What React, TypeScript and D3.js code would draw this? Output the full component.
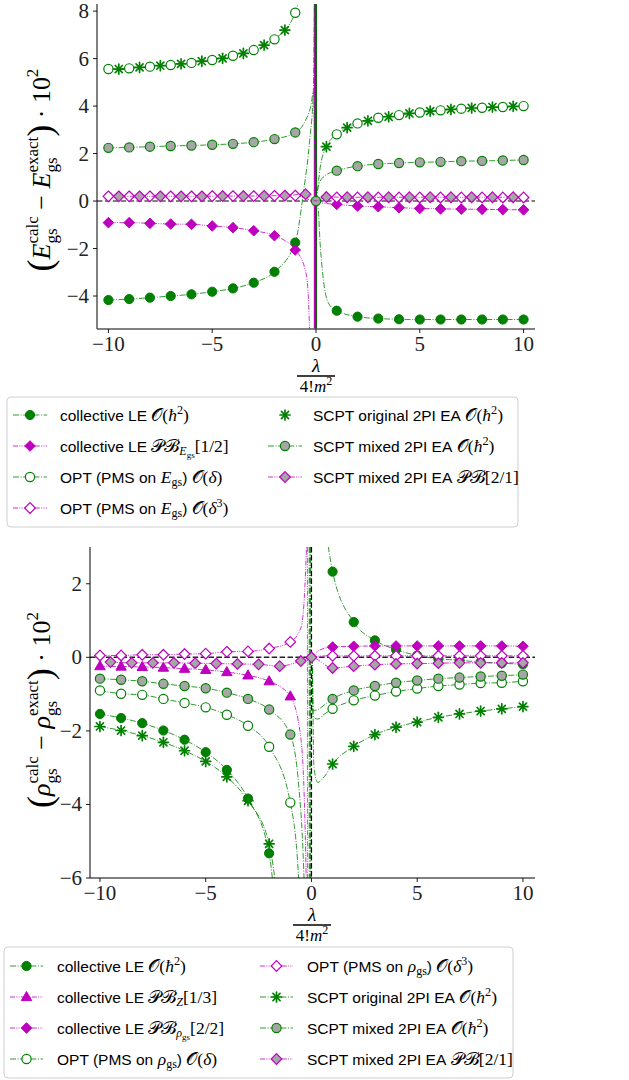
import React from "react";
import * as d3 from "d3";

type Pt = [number, number];

// x grids used by the markers
const xNeg = [-10, -9, -8, -7, -6, -5, -4, -3, -2, -1];
const xPos = [1, 2, 3, 4, 5, 6, 7, 8, 9, 10];
const xNegHalf = [-9.5, -8.5, -7.5, -6.5, -5.5, -4.5, -3.5, -2.5, -1.5, -0.5];
const xPosHalf = [0.5, 1.5, 2.5, 3.5, 4.5, 5.5, 6.5, 7.5, 8.5, 9.5];
const xTicks = [-10, -5, 0, 5, 10];
const yTicksE = [-4, -2, 0, 2, 4, 6, 8];
const yTicksR = [-6, -4, -2, 0, 2];

// ---- top panel: (E_calc - E_exact) * 1e2
const eLeNeg = [-4.17, -4.13, -4.07, -4.0, -3.93, -3.82, -3.68, -3.44, -2.98, -1.75];
const eLePos = [-4.62, -4.87, -4.95, -4.98, -4.99, -4.99, -4.99, -4.99, -4.99, -4.99];
const eLeTail: Pt[] = [[-0.6, 0.4], [-0.3, 2.6], [-0.13, 4.6], [-0.07, 9]];
const eLeHead: Pt[] = [[0.0, 0], [0.1, -0.3], [0.2, -1.8], [0.34, -3.2], [0.6, -4.3]];

const ePbNeg = [-0.91, -0.91, -0.94, -0.97, -0.98, -1.05, -1.12, -1.25, -1.46, -2.06];
const ePbPos = [-0.14, -0.21, -0.24, -0.28, -0.31, -0.33, -0.34, -0.35, -0.36, -0.37];
const ePbTail: Pt[] = [[-0.55, -2.8], [-0.4, -3.6], [-0.3, -5.6]];
const ePbHead: Pt[] = [[0, 0], [0.3, -0.08]];

const eOptNeg = [5.56, 5.59, 5.66, 5.73, 5.82, 5.94, 6.12, 6.36, 6.81, 7.93];
const eOptPos = [2.81, 3.27, 3.51, 3.62, 3.73, 3.82, 3.89, 3.93, 3.96, 4.0];
const eOptTail: Pt[] = [[-0.8, 8.6]];
const eOptHead: Pt[] = [[0.03, 0], [0.2, 1.4], [0.5, 2.29]];

const eOpt3Neg = [0.2, 0.2, 0.2, 0.2, 0.2, 0.21, 0.21, 0.21, 0.22, 0.23];
const eOpt3Pos = [0.15, 0.15, 0.15, 0.15, 0.15, 0.15, 0.15, 0.15, 0.15, 0.15];

const eScNeg = [5.56, 5.63, 5.7, 5.78, 5.89, 6.01, 6.22, 6.57, 7.2];
const eScPos = [2.29, 3.09, 3.38, 3.55, 3.69, 3.79, 3.86, 3.92, 3.96, 3.99];

const eMixNeg = [2.24, 2.26, 2.29, 2.32, 2.34, 2.37, 2.41, 2.48, 2.61, 2.89];
const eMixPos = [1.28, 1.47, 1.56, 1.6, 1.63, 1.65, 1.68, 1.69, 1.71, 1.73];
const eMixTail: Pt[] = [[-0.5, 3.4], [-0.25, 4.0], [-0.12, 4.6], [-0.05, 2.0], [0, 0]];
const eMixHead: Pt[] = [[0, 0], [0.1, 0.6], [0.4, 1.05]];

const eMixPbNeg = [0.2, 0.2, 0.2, 0.2, 0.2, 0.21, 0.21, 0.22, 0.23, 0.29];
const eMixPbPos = [0.17, 0.16, 0.16, 0.16, 0.16, 0.16, 0.16, 0.16, 0.16, 0.16];

// ---- bottom panel: (rho_calc - rho_exact) * 1e2
const rLeNeg = [-1.54, -1.65, -1.79, -1.99, -2.24, -2.58, -3.06, -3.84, -5.33];
const rLePos = [2.33, 0.96, 0.46, 0.21, 0.05, -0.04, -0.08, -0.13, -0.16, -0.19];
const rLeTail: Pt[] = [[-1.75, -6.6]];
const rLeHead: Pt[] = [[0.72, 3.3]];

const rPbzNeg = [-0.24, -0.25, -0.26, -0.28, -0.31, -0.34, -0.4, -0.49, -0.65, -1.06];
const rPbzTail: Pt[] = [[-0.5, -2.2], [-0.32, -4.2], [-0.23, -6.5]];

const rPbrPos = [0.28, 0.3, 0.31, 0.31, 0.31, 0.31, 0.31, 0.31, 0.31, 0.3];
const rPbrHead: Pt[] = [[0, 0], [0.4, 0.2]];

const rOptNeg = [-0.9, -0.99, -1.02, -1.13, -1.24, -1.36, -1.56, -1.86, -2.43, -3.95];
const rOptPos = [-1.4, -1.17, -1.04, -0.93, -0.85, -0.78, -0.74, -0.7, -0.69, -0.65];
const rOptTail: Pt[] = [[-0.7, -5.2], [-0.55, -6.5]];
const rOptHead: Pt[] = [[0.04, 0], [0.07, -1.6], [0.3, -1.68], [0.6, -1.55]];

const rOpt3Neg = [0.05, 0.05, 0.07, 0.07, 0.09, 0.1, 0.15, 0.16, 0.24, 0.42];
const rOpt3Pos = [0.04, 0.04, 0.04, 0.04, 0.04, 0.04, 0.04, 0.04, 0.04, 0.04];
const rOpt3Tail: Pt[] = [[-0.5, 0.8], [-0.32, 1.8], [-0.22, 3.2]];
const rOpt3Head: Pt[] = [[0, 0], [0.3, 0.03]];

const rScNeg = [-1.88, -1.99, -2.13, -2.31, -2.54, -2.83, -3.25, -3.9, -5.07];
const rScPos = [-2.9, -2.42, -2.1, -1.9, -1.76, -1.63, -1.54, -1.46, -1.4, -1.34];
const rScTail: Pt[] = [[-1.6, -6.6]];
const rScHead: Pt[] = [[0.05, 0], [0.12, -3.0], [0.3, -3.4], [0.6, -3.25]];

const rMixNeg = [-0.58, -0.61, -0.65, -0.72, -0.78, -0.84, -0.96, -1.13, -1.42, -2.1];
const rMixPos = [-1.13, -0.9, -0.78, -0.69, -0.63, -0.58, -0.55, -0.52, -0.5, -0.47];
const rMixTail: Pt[] = [[-0.6, -3.5], [-0.42, -5.0], [-0.32, -6.5]];
const rMixHead: Pt[] = [[0.04, 0], [0.07, -1.45], [0.3, -1.42], [0.6, -1.3]];

const rMixPbNeg = [-0.13, -0.15, -0.15, -0.15, -0.16, -0.17, -0.18, -0.19, -0.24, -0.1];
const rMixPbPos = [-0.29, -0.24, -0.2, -0.18, -0.17, -0.16, -0.15, -0.15, -0.15, -0.15];

const GREEN = "#008000";
const MAG = "#bf00bf";
const GRAY = "#a6a6a6";
const DASH_G = "6 1.6 1 1.6";
const DASH_M = "5 1.3 1 1.3 1 1.3";

const SANS = '"Liberation Sans", Arial, sans-serif';
const SERIF = '"Liberation Serif", "Times New Roman", serif';

const zip = (xs: number[], ys: number[]): Pt[] => ys.map((y, i) => [xs[i], y]);

// ---------- rich text helpers (measure with a canvas) ----------
type Piece = { t: string; f?: "sans" | "rm" | "it"; s: number; dy?: number; stack?: boolean };
const canvas = typeof document !== "undefined" ? document.createElement("canvas") : null;
const ctx = canvas ? canvas.getContext("2d") : null;
const fontOf = (p: Piece) =>
  `${p.f === "it" ? "italic " : ""}${p.s}px ${p.f === "sans" ? SANS : SERIF}`;
const measure = (p: Piece) => {
  if (!ctx) return p.t.length * p.s * 0.5;
  ctx.font = fontOf(p);
  return ctx.measureText(p.t).width;
};
function layout(pieces: Piece[]) {
  let x = 0, prevStart = 0, prevW = 0;
  const items = pieces.map((p) => {
    const w = measure(p);
    if (p.stack) {
      const it = { ...p, x: prevStart };
      prevW = Math.max(prevW, w);
      x = prevStart + prevW;
      return it;
    }
    const it = { ...p, x };
    prevStart = x;
    prevW = w;
    x += w;
    return it;
  });
  return { items, width: x };
}
function Rich({ pieces, x, y, anchor = "start" }: { pieces: Piece[]; x: number; y: number; anchor?: string }) {
  const { items, width } = layout(pieces);
  const x0 = anchor === "middle" ? x - width / 2 : anchor === "end" ? x - width : x;
  return (
    <g>
      {items.map((p, i) => (
        <text
          key={i}
          x={x0 + p.x}
          y={y - (p.dy || 0)}
          fontFamily={p.f === "sans" ? SANS : SERIF}
          fontStyle={p.f === "it" ? "italic" : "normal"}
          fontSize={p.s}
          style={{ whiteSpace: "pre" }}
        >
          {p.t}
        </text>
      ))}
    </g>
  );
}

// ---------- markers ----------
function Marker({ kind, x, y }: { kind: string; x: number; y: number }) {
  const r = 4.6, d = 5.3;
  const dia = `M${x},${y - d}L${x + d},${y}L${x},${y + d}L${x - d},${y}Z`;
  switch (kind) {
    case "circle":
      return <circle cx={x} cy={y} r={r} fill={GREEN} stroke={GREEN} strokeWidth={1} />;
    case "circleOpen":
      return <circle cx={x} cy={y} r={r} fill="#fff" stroke={GREEN} strokeWidth={1.2} />;
    case "circleGray":
      return <circle cx={x} cy={y} r={r} fill={GRAY} stroke={GREEN} strokeWidth={1.2} />;
    case "diamond":
      return <path d={dia} fill={MAG} stroke={MAG} strokeWidth={1} />;
    case "diamondOpen":
      return <path d={dia} fill="#fff" stroke={MAG} strokeWidth={1.2} />;
    case "diamondGray":
      return <path d={dia} fill={GRAY} stroke={MAG} strokeWidth={1.2} />;
    case "triangle":
      return <path d={`M${x},${y - 5.5}L${x + 5.2},${y + 3.6}L${x - 5.2},${y + 3.6}Z`} fill={MAG} stroke={MAG} strokeWidth={1} />;
    case "star": {
      const a = 5;
      return (
        <g stroke={GREEN} strokeWidth={1.7} strokeLinecap="round">
          {[0, 45, 90, 135].map((deg) => {
            const c = Math.cos((deg * Math.PI) / 180) * a;
            const s = Math.sin((deg * Math.PI) / 180) * a;
            return <line key={deg} x1={x - c} y1={y - s} x2={x + c} y2={y + s} />;
          })}
          <circle cx={x} cy={y} r={2} fill={GREEN} stroke="none" />
        </g>
      );
    }
  }
  return null;
}

type Series = { kind: string; line: "g" | "m" | null; segs: Pt[][]; pts: Pt[] };

const topSeries: Series[] = [
  { kind: "circle", line: "g", segs: [[...zip(xNeg, eLeNeg), ...eLeTail], [...eLeHead, ...zip(xPos, eLePos)]], pts: [...zip(xNeg, eLeNeg), ...zip(xPos, eLePos)] },
  { kind: "diamond", line: "m", segs: [[...zip(xNeg, ePbNeg), ...ePbTail], [...ePbHead, ...zip(xPos, ePbPos)]], pts: [...zip(xNeg, ePbNeg), ...zip(xPos, ePbPos)] },
  { kind: "circleOpen", line: "g", segs: [[...zip(xNeg, eOptNeg), ...eOptTail], [...eOptHead, ...zip(xPos, eOptPos)]], pts: [...zip(xNeg, eOptNeg), ...zip(xPos, eOptPos)] },
  { kind: "diamondOpen", line: "m", segs: [[...zip(xNeg, eOpt3Neg), [0, 0], ...zip(xPos, eOpt3Pos)]], pts: [...zip(xNeg, eOpt3Neg), ...zip(xPos, eOpt3Pos)] },
  { kind: "star", line: null, segs: [], pts: [...zip(xNegHalf, eScNeg), ...zip(xPosHalf, eScPos)] },
  { kind: "circleGray", line: "g", segs: [[...zip(xNeg, eMixNeg), ...eMixTail], [...eMixHead, ...zip(xPos, eMixPos)]], pts: [...zip(xNeg, eMixNeg), [0, 0], ...zip(xPos, eMixPos)] },
  { kind: "diamondGray", line: "m", segs: [[...zip(xNegHalf, eMixPbNeg), [0, 0], ...zip(xPosHalf, eMixPbPos)]], pts: [...zip(xNegHalf, eMixPbNeg), ...zip(xPosHalf, eMixPbPos)] },
];

const botSeries: Series[] = [
  { kind: "circle", line: "g", segs: [[...zip(xNeg, rLeNeg), ...rLeTail], [...rLeHead, ...zip(xPos, rLePos)]], pts: [...zip(xNeg, rLeNeg), ...zip(xPos, rLePos)] },
  { kind: "triangle", line: "m", segs: [[...zip(xNeg, rPbzNeg), ...rPbzTail]], pts: zip(xNeg, rPbzNeg) },
  { kind: "diamond", line: "m", segs: [[...rPbrHead, ...zip(xPos, rPbrPos)]], pts: zip(xPos, rPbrPos) },
  { kind: "circleOpen", line: "g", segs: [[...zip(xNeg, rOptNeg), ...rOptTail], [...rOptHead, ...zip(xPos, rOptPos)]], pts: [...zip(xNeg, rOptNeg), ...zip(xPos, rOptPos)] },
  { kind: "diamondOpen", line: "m", segs: [[...zip(xNeg, rOpt3Neg), ...rOpt3Tail], [...rOpt3Head, ...zip(xPos, rOpt3Pos)]], pts: [...zip(xNeg, rOpt3Neg), ...zip(xPos, rOpt3Pos)] },
  { kind: "star", line: "g", segs: [[...zip(xNeg, rScNeg), ...rScTail], [...rScHead, ...zip(xPos, rScPos)]], pts: [...zip(xNeg, rScNeg), ...zip(xPos, rScPos)] },
  { kind: "circleGray", line: "g", segs: [[...zip(xNeg, rMixNeg), ...rMixTail], [...rMixHead, ...zip(xPos, rMixPos)]], pts: [...zip(xNeg, rMixNeg), ...zip(xPos, rMixPos)] },
  { kind: "diamondGray", line: "m", segs: [[...zip(xNegHalf, rMixPbNeg), [0, 0], ...zip(xPos, rMixPbPos)]], pts: [...zip(xNegHalf, rMixPbNeg), [0, 0], ...zip(xPos, rMixPbPos)] },
];

// ---------- legend labels ----------
const O = (s: number): Piece => ({ t: "𝒪", f: "rm", s });
const PB = (s: number): Piece => ({ t: "𝒫ℬ", f: "rm", s });
const hbar2 = (s: number): Piece[] => [O(s), { t: "(", f: "rm", s }, { t: "ħ", f: "it", s }, { t: "2", f: "rm", s: s * 0.7, dy: 7 }, { t: ")", f: "rm", s }];
const LS = 15.5, MS = 17.5, SUB = 12;
const sans = (t: string): Piece => ({ t, f: "sans", s: LS });

const topLegend = [
  { kind: "circle", line: "g", label: [sans("collective LE "), ...hbar2(MS)] },
  { kind: "diamond", line: "m", label: [sans("collective LE "), PB(MS), { t: "E", f: "it", s: SUB, dy: -3 }, { t: "gs", f: "rm", s: 9, dy: -6 }, { t: "[1/2]", f: "rm", s: MS }] },
  { kind: "circleOpen", line: "g", label: [sans("OPT (PMS on "), { t: "E", f: "it", s: MS }, { t: "gs", f: "rm", s: SUB, dy: -3 }, sans(") "), O(MS), { t: "(", f: "rm", s: MS }, { t: "δ", f: "it", s: MS }, { t: ")", f: "rm", s: MS }] },
  { kind: "diamondOpen", line: "m", label: [sans("OPT (PMS on "), { t: "E", f: "it", s: MS }, { t: "gs", f: "rm", s: SUB, dy: -3 }, sans(") "), O(MS), { t: "(", f: "rm", s: MS }, { t: "δ", f: "it", s: MS }, { t: "3", f: "rm", s: SUB, dy: 7 }, { t: ")", f: "rm", s: MS }] },
  { kind: "star", line: null, label: [sans("SCPT original 2PI EA "), ...hbar2(MS)] },
  { kind: "circleGray", line: "g", label: [sans("SCPT mixed 2PI EA "), ...hbar2(MS)] },
  { kind: "diamondGray", line: "m", label: [sans("SCPT mixed 2PI EA "), PB(MS), { t: "[2/1]", f: "rm", s: MS }] },
];

const rhoGs: Piece[] = [{ t: "ρ", f: "it", s: MS }, { t: "gs", f: "rm", s: SUB, dy: -3 }];
const botLegend = [
  { kind: "circle", line: "g", label: [sans("collective LE "), ...hbar2(MS)] },
  { kind: "triangle", line: "m", label: [sans("collective LE "), PB(MS), { t: "Z", f: "it", s: SUB, dy: -3 }, { t: "[1/3]", f: "rm", s: MS }] },
  { kind: "diamond", line: "m", label: [sans("collective LE "), PB(MS), { t: "ρ", f: "it", s: SUB, dy: -3 }, { t: "gs", f: "rm", s: 9, dy: -6 }, { t: "[2/2]", f: "rm", s: MS }] },
  { kind: "circleOpen", line: "g", label: [sans("OPT (PMS on "), ...rhoGs, sans(") "), O(MS), { t: "(", f: "rm", s: MS }, { t: "δ", f: "it", s: MS }, { t: ")", f: "rm", s: MS }] },
  { kind: "diamondOpen", line: "m", label: [sans("OPT (PMS on "), ...rhoGs, sans(") "), O(MS), { t: "(", f: "rm", s: MS }, { t: "δ", f: "it", s: MS }, { t: "3", f: "rm", s: SUB, dy: 7 }, { t: ")", f: "rm", s: MS }] },
  { kind: "star", line: "g", label: [sans("SCPT original 2PI EA "), ...hbar2(MS)] },
  { kind: "circleGray", line: "g", label: [sans("SCPT mixed 2PI EA "), ...hbar2(MS)] },
  { kind: "diamondGray", line: "m", label: [sans("SCPT mixed 2PI EA "), PB(MS), { t: "[2/1]", f: "rm", s: MS }] },
];

function yLabel(sym: string): Piece[] {
  const B = 26, S = 17;
  return [
    { t: "(", f: "rm", s: 36, dy: -2 },
    { t: sym, f: "it", s: B },
    { t: "calc", f: "rm", s: S, dy: 12 },
    { t: "gs", f: "rm", s: S, dy: -7, stack: true },
    { t: " − ", f: "rm", s: B },
    { t: sym, f: "it", s: B },
    { t: "exact", f: "rm", s: S, dy: 12 },
    { t: "gs", f: "rm", s: S, dy: -7, stack: true },
    { t: ")", f: "rm", s: 36, dy: -2 },
    { t: " · 10", f: "rm", s: B },
    { t: "2", f: "rm", s: S, dy: 12 },
  ];
}

type PanelProps = {
  left: number; right: number; top: number; bottom: number;
  xDom: [number, number]; yDom: [number, number]; yTicks: number[];
  series: Series[]; id: string; variant: "E" | "R";
};

function Panel({ left, right, top, bottom, xDom, yDom, yTicks, series, id, variant }: PanelProps) {
  const xs = d3.scaleLinear().domain(xDom).range([left, right]);
  const ys = d3.scaleLinear().domain(yDom).range([bottom, top]);
  const line = d3.line<Pt>().x((d) => xs(d[0])).y((d) => ys(d[1])).curve(d3.curveMonotoneX);
  const cx = xs(0);
  return (
    <g>
      <defs>
        <clipPath id={id}>
          <rect x={left} y={top} width={right - left} height={bottom - top} />
        </clipPath>
      </defs>
      <g clipPath={`url(#${id})`}>
        <line x1={left} x2={right} y1={ys(0)} y2={ys(0)} stroke={variant === "E" ? "#555" : "#222"} strokeWidth={1.5} strokeDasharray="5.5 2.4" />
        {variant === "E" ? (
          <g>
            <line x1={cx - 1.6} x2={cx - 1.6} y1={top} y2={bottom} stroke={MAG} strokeWidth={1.2} />
            <line x1={cx} x2={cx} y1={top} y2={bottom} stroke="#0a640a" strokeWidth={2} />
          </g>
        ) : (
          <g>
            <line x1={cx - 1.5} x2={cx - 1.5} y1={top} y2={bottom} stroke={GREEN} strokeWidth={2.5} strokeDasharray={DASH_G} opacity={0.8} />
            <line x1={cx - 4} x2={cx - 4} y1={top} y2={bottom} stroke={MAG} strokeWidth={1} strokeDasharray={DASH_M} opacity={0.7} />
            <line x1={cx} x2={cx} y1={top} y2={bottom} stroke="#000" strokeWidth={1.3} strokeDasharray="5.5 2.4" />
          </g>
        )}
        {series.map((s, i) => (
          <g key={i}>
            {s.line &&
              s.segs.map((seg, j) => (
                <path
                  key={j}
                  d={line(seg) || ""}
                  fill="none"
                  stroke={s.line === "g" ? GREEN : MAG}
                  strokeOpacity={0.8}
                  strokeWidth={1}
                  strokeDasharray={s.line === "g" ? DASH_G : DASH_M}
                />
              ))}
            {s.pts.map((p, j) => (
              <Marker key={j} kind={s.kind} x={xs(p[0])} y={ys(p[1])} />
            ))}
          </g>
        ))}
      </g>
      {/* spines */}
      <line x1={left} x2={left} y1={top} y2={bottom} stroke="#000" strokeWidth={1} />
      <line x1={left} x2={right} y1={bottom} y2={bottom} stroke={variant === "E" ? "#555" : "#000"} strokeWidth={variant === "E" ? 1.6 : 1} />
      {xTicks.map((t) => (
        <g key={t}>
          <line x1={xs(t)} x2={xs(t)} y1={bottom} y2={bottom + 4} stroke="#000" strokeWidth={0.9} />
          <text x={xs(t)} y={bottom + 22} textAnchor="middle" fontFamily={SERIF} fontSize={21} fill="#222">
            {t < 0 ? `−${-t}` : t}
          </text>
        </g>
      ))}
      {yTicks.map((t) => (
        <g key={t}>
          <line x1={left - 4} x2={left} y1={ys(t)} y2={ys(t)} stroke="#000" strokeWidth={0.9} />
          <text x={left - 8} y={ys(t) + 7} textAnchor="end" fontFamily={SERIF} fontSize={21} fill="#222">
            {t < 0 ? `−${-t}` : t}
          </text>
        </g>
      ))}
    </g>
  );
}

function XLabel({ x, y }: { x: number; y: number }) {
  return (
    <g>
      <Rich pieces={[{ t: "λ", f: "it", s: 19 }]} x={x} y={y} anchor="middle" />
      <line x1={x - 19} x2={x + 19} y1={y + 4} y2={y + 4} stroke="#000" strokeWidth={1.3} />
      <Rich pieces={[{ t: "4!", f: "rm", s: 17 }, { t: "m", f: "it", s: 17 }, { t: "2", f: "rm", s: 12, dy: 7 }]} x={x} y={y + 20} anchor="middle" />
    </g>
  );
}

function Legend({ x, y, w, h, rows, entries, handle }: any) {
  return (
    <g>
      <rect x={x} y={y} width={w} height={h} rx={4} fill="#fff" fillOpacity={0.8} stroke="#cfcfcf" strokeWidth={1} />
      {entries.map((e: any, i: number) => {
        const col = i < 4 ? 0 : 1;
        const row = i < 4 ? i : i - 4;
        const cy = rows[row];
        const h0 = handle[col];
        return (
          <g key={i}>
            {e.line && (
              <line x1={h0.x1} x2={h0.x2} y1={cy} y2={cy} stroke={e.line === "g" ? GREEN : MAG} strokeOpacity={0.8} strokeWidth={1} strokeDasharray={e.line === "g" ? DASH_G : DASH_M} />
            )}
            <Marker kind={e.kind} x={(h0.x1 + h0.x2) / 2} y={cy} />
            <Rich pieces={e.label} x={h0.tx} y={cy + 5.5} />
          </g>
        );
      })}
    </g>
  );
}

export default function App() {
  return (
    <svg width={629} height={1080} style={{ position: "absolute", left: 0, top: 0, background: "#fff" }}>
      <rect width={629} height={1080} fill="#fff" />
      <Panel left={97} right={535} top={4} bottom={329} xDom={[-10.55, 10.55]} yDom={[-5.39, 8.3]} yTicks={yTicksE} series={topSeries} id="clipE" variant="E" />
      <XLabel x={316} y={372} />
      <g transform="translate(50,170) rotate(-90)">
        <Rich pieces={yLabel("E")} x={0} y={0} anchor="middle" />
      </g>
      <Legend
        x={7} y={397} w={511} h={130}
        rows={[415, 446, 477, 508]}
        entries={topLegend}
        handle={[{ x1: 13, x2: 47, tx: 60 }, { x1: 268, x2: 302, tx: 313 }]}
      />

      <Panel left={90} right={535} top={547} bottom={878} xDom={[-10.47, 10.57]} yDom={[-6, 3]} yTicks={yTicksR} series={botSeries} id="clipR" variant="R" />
      <XLabel x={312} y={921} />
      <g transform="translate(50,710) rotate(-90)">
        <Rich pieces={yLabel("ρ")} x={0} y={0} anchor="middle" />
      </g>
      <Legend
        x={4} y={947} w={509} h={131}
        rows={[966, 997, 1028, 1059]}
        entries={botLegend}
        handle={[{ x1: 10, x2: 43, tx: 57 }, { x1: 260, x2: 293, tx: 307 }]}
      />
    </svg>
  );
}
